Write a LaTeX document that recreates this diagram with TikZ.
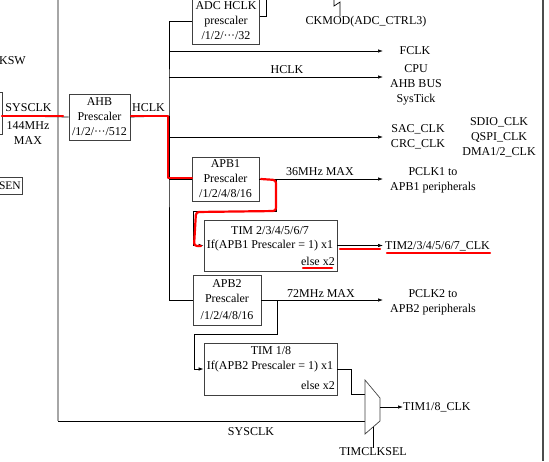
\documentclass[tikz,border=0pt]{standalone}
\usepackage{fontspec}
\setmainfont{Liberation Serif}
\usetikzlibrary{arrows.meta}
\newcommand{\dotsmid}{\char"B7\kern-0.3pt\char"B7\kern-0.3pt\char"B7}
\tikzset{
  blk/.style={draw=black!75, line width=0.8pt, inner sep=0pt, align=center},
  wire/.style={line width=0.7pt},
  sig/.style={wire, -{Latex[length=5pt,width=3.5pt]}},
  redline/.style={red, line width=2.2pt, line cap=round, line join=round},
  lbl/.style={inner sep=0pt, align=center}
}
\begin{document}
\begin{tikzpicture}[x=1pt, y=-1pt, font=\fontsize{12}{15}\selectfont]
	\useasboundingbox (0,0) rectangle (549,461);
	% clipped parts on the left
	\node[lbl, anchor=east] (ksw) at (26,61) {KSW};
	\node[blk, minimum width=22pt, minimum height=42pt] (swbox) at (-9,113) {};
	\node[blk, minimum width=34pt, minimum height=17pt] (senbox) at (5,185.5) {};
	\node[lbl, anchor=east, font=\fontsize{11.5}{14}\selectfont] (sen) at (21,186) {SEN};
	\node[lbl] (sysa) at (28.5,108) {SYSCLK};
	\node[lbl] (sysb) at (28,133) {144MHz\\MAX};
	% prescalers
	\node[blk, minimum width=61pt, minimum height=46pt] (ahb) at (99.5,117) {AHB\\Prescaler\\/1/2/\dotsmid/512};
	\node[blk, minimum width=67pt, minimum height=46pt] (adc) at (226,21) {ADC HCLK\\prescaler\\/1/2/\dotsmid/32};
	\node[blk, minimum width=67pt, minimum height=44pt] (apba) at (225.5,179) {APB1\\Prescaler\\/1/2/4/8/16};
	\node[blk, minimum width=68pt, minimum height=50pt] (apbb) at (227,300) {APB2\\Prescaler\\[2pt]/1/2/4/8/16};
	\node[blk, minimum width=133pt, minimum height=51pt] (tima) at (270.5,245.5) {};
	\node[blk, minimum width=133pt, minimum height=52pt] (timb) at (270.5,369) {};
	\node[lbl] (timat) at (270,231) {TIM 2/3/4/5/6/7};
	\node[lbl] (timam) at (270,246) {If(APB1 Prescaler = 1) x1};
	\node[lbl, anchor=east] (timae) at (335,261) {else x2};
	\node[lbl] (timbt) at (271,351) {TIM 1/8};
	\node[lbl] (timbm) at (270,367) {If(APB2 Prescaler = 1) x1};
	\node[lbl, anchor=east] (timbe) at (335,385) {else x2};
	% labels
	\node[lbl] (hclka) at (148.5,108) {HCLK};
	\node[lbl] (hclkb) at (287,70) {HCLK};
	\node[lbl] (ckmod) at (366,22) {CKMOD(ADC\_CTRL3)};
	\node[lbl] (fclk) at (415,51) {FCLK};
	\node[lbl] (cpu) at (416,85) {CPU\\AHB BUS\\SysTick};
	\node[lbl] (sac) at (418,137) {SAC\_CLK\\CRC\_CLK};
	\node[lbl] (sdio) at (499,137) {SDIO\_CLK\\QSPI\_CLK\\DMA1/2\_CLK};
	\node[lbl] (maxa) at (320,172) {36MHz MAX};
	\node[lbl] (pclka) at (433,180) {PCLK1 to\\APB1 peripherals};
	\node[lbl, anchor=west] (timaclk) at (385,246) {TIM2/3/4/5/6/7\_CLK};
	\node[lbl] (maxb) at (321,294) {72MHz MAX};
	\node[lbl] (pclkb) at (433,302) {PCLK2 to\\APB2 peripherals};
	\node[lbl, anchor=west] (timbclk) at (403,407) {TIM1/8\_CLK};
	\node[lbl] (sel) at (373,452) {TIMCLKSEL};
	\node[lbl] (sysc) at (251,432) {SYSCLK};
	% points
	\coordinate (sysin) at (2,116);
	\coordinate (hb) at (169,116);
	\coordinate (ja) at (276,179);
	\coordinate (jb) at (277,300);
	\coordinate (muxa) at (365,394);
	\coordinate (muxb) at (365,421);
	\coordinate (muxo) at (380,407);
	\coordinate (selp) at (373,427);
	% frame lines
	\draw[gray!70, line width=1.6pt] (58,0) -- (58,421);
	\draw[wire] (58,421) -- (muxb);
	\draw[black!70, line width=1.2pt] (543,0) -- (543,461);
	% wires
	\draw[wire] (sysin) -- (ahb.west);
	\draw[wire] (ahb.east) -- (hb);
	\draw[wire] (adc.west) -| (hb) |- (apbb.west);
	\draw[wire] (hb) |- (apba.west);
	\draw[wire] (adc.east |- 0,16) -- ++(6,0) -- ++(0,-16);
	\draw[wire] (334,0) -- (334,6) -- (340,2) -- (ckmod.north -| 340,0);
	\draw[sig] (169,51) -- (383,51);
	\draw[sig] (169,77) -- (383,77);
	\draw[sig] (169,137) -- (383,137);
	\draw[sig] (apba.east) -- (383,179);
	\draw[sig] (ja) -- (276,211) -- (193,211) |- (tima.west);
	\draw[sig] (tima.east) -- (383,245.5);
	\draw[sig] (apbb.east) -- (383,300);
	\draw[sig] (jb) -- (277,334) -- (194,334) |- (timb.west);
	\draw[wire] (timb.east) -- (351,369) |- (muxa);
	% mux
	\draw[wire, draw=black!75, fill=white] (365,380) -- (380,398) -- (380,421) -- (365,434) -- cycle;
	\draw[sig] (muxo) -- (timbclk.west);
	\draw[wire] (selp) -- (sel.north);
	% red marks
	\draw[redline] (sysin) -- (63,116);
	\draw[redline] (131,116) -- (168,116) -- (168,178) -- (192,178);
	\draw[redline, rounded corners=3pt] (261,179) -- (276,180) -- (276,211) -- (196,212) -- (194,246) -- (201,246);
	\draw[redline] (303,268) -- (332,268);
	\draw[redline] (340,249) -- (380,249);
	\draw[redline] (387,253) -- (490,253);
\end{tikzpicture}
\end{document}
